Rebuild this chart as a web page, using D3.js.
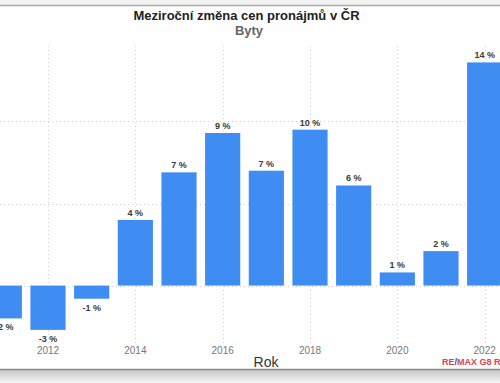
<!DOCTYPE html>
<html><head><meta charset="utf-8">
<script src="https://cdn.jsdelivr.net/npm/d3@7"></script>
<style>html,body{margin:0;padding:0;background:#fff;}svg{display:block;}</style>
</head><body>
<svg id="c" width="500" height="383"></svg>
<script>
const years = [2011, 2012, 2013, 2014, 2015, 2016, 2017, 2018, 2019, 2020, 2021, 2022];
const values = [-2.0, -2.7, -0.8, 4.0, 6.9, 9.3, 7.0, 9.5, 6.1, 0.8, 2.1, 13.6];
const valueLabels = ["-2 %", "-3 %", "-1 %", "4 %", "7 %", "9 %", "7 %", "10 %", "6 %", "1 %", "2 %", "14 %"];
const xTicks = [2012, 2014, 2016, 2018, 2020, 2022];
const yGrid = [0, 5, 10];
const title = "Meziroční změna cen pronájmů v ČR";
const subtitle = "Byty";
const xTitle = "Rok";

const svg = d3.select("#c");
const font = "Liberation Sans, Arial, Helvetica, sans-serif";

// frame
const defs = svg.append("defs");
const g = defs.append("linearGradient").attr("id","sh").attr("x1",0).attr("y1",0).attr("x2",0).attr("y2",1);
g.append("stop").attr("offset","0").attr("stop-color","#c8c8c8");
g.append("stop").attr("offset","1").attr("stop-color","#f4f4f4");
svg.append("rect").attr("x",0).attr("y",0).attr("width",500).attr("height",5).attr("fill","#f2f2f2");
svg.append("rect").attr("x",0).attr("y",370).attr("width",500).attr("height",13).attr("fill","url(#sh)");
svg.append("line").attr("x1",0).attr("x2",500).attr("y1",5.5).attr("y2",5.5).attr("stroke","#aaa").attr("stroke-width",1.5);
svg.append("line").attr("x1",0).attr("x2",500).attr("y1",369.5).attr("y2",369.5).attr("stroke","#888").attr("stroke-width",1.5);

const x = d3.scaleBand().domain(years).range([-17.5, 506.5]).paddingInner(0.195).paddingOuter(0.0975);
const y = d3.scaleLinear().domain([-3.5, 14.6]).range([343, 46]);
const cx = d => x(d) + x.bandwidth()/2;

// grid
svg.append("g").selectAll("line.v").data(xTicks).join("line")
  .attr("x1", d => Math.round(cx(d)) + 0.5).attr("x2", d => Math.round(cx(d)) + 0.5)
  .attr("y1", y.range()[1]).attr("y2", y.range()[0])
  .attr("stroke", "#cfcfcf").attr("stroke-dasharray", "1,3");
svg.append("g").selectAll("line.h").data(yGrid).join("line")
  .attr("x1", 0).attr("x2", 500)
  .attr("y1", d => Math.round(y(d)) + 0.5).attr("y2", d => Math.round(y(d)) + 0.5)
  .attr("stroke", "#cfcfcf").attr("stroke-dasharray", "1,3");

// bars
svg.append("g").selectAll("rect").data(years).join("rect")
  .attr("x", d => x(d))
  .attr("width", x.bandwidth())
  .attr("y", (d,i) => y(Math.max(0, values[i])))
  .attr("height", (d,i) => Math.abs(y(values[i]) - y(0)))
  .attr("fill", "#3f8cf2");

// value labels
svg.append("g").selectAll("text").data(years).join("text")
  .attr("x", d => cx(d))
  .attr("y", (d,i) => values[i] >= 0 ? y(values[i]) - 4 : y(values[i]) + 12)
  .attr("text-anchor", "middle")
  .attr("font-family", font).attr("font-size", 9).attr("font-weight", "bold")
  .attr("fill", "#3a3a3a")
  .text((d,i) => valueLabels[i]);

// x tick labels
svg.append("g").selectAll("text").data(xTicks).join("text")
  .attr("x", d => cx(d)).attr("y", 354)
  .attr("text-anchor", "middle")
  .attr("font-family", font).attr("font-size", 10).attr("fill", "#777")
  .text(d => d);

// titles
svg.append("text").attr("x", 246.5).attr("y", 20).attr("text-anchor","middle")
  .attr("font-family", font).attr("font-size", 13).attr("font-weight","bold").attr("fill","#222").text(title);
svg.append("text").attr("x", 249).attr("y", 35).attr("text-anchor","middle")
  .attr("font-family", font).attr("font-size", 13).attr("font-weight","bold").attr("fill","#666").text(subtitle);
svg.append("text").attr("x", 266).attr("y", 367).attr("text-anchor","middle")
  .attr("font-family", font).attr("font-size", 14).attr("fill","#333").text(xTitle);

// credit
const cr = svg.append("text").attr("x", 442).attr("y", 364.5)
  .attr("font-family", font).attr("font-size", 9).attr("font-weight","bold");
cr.append("tspan").attr("fill","#d9434f").text("RE");
cr.append("tspan").attr("fill","#2a4fa8").text("/");
cr.append("tspan").attr("fill","#d9434f").text("MAX G8 Reality");
</script>
</body></html>
